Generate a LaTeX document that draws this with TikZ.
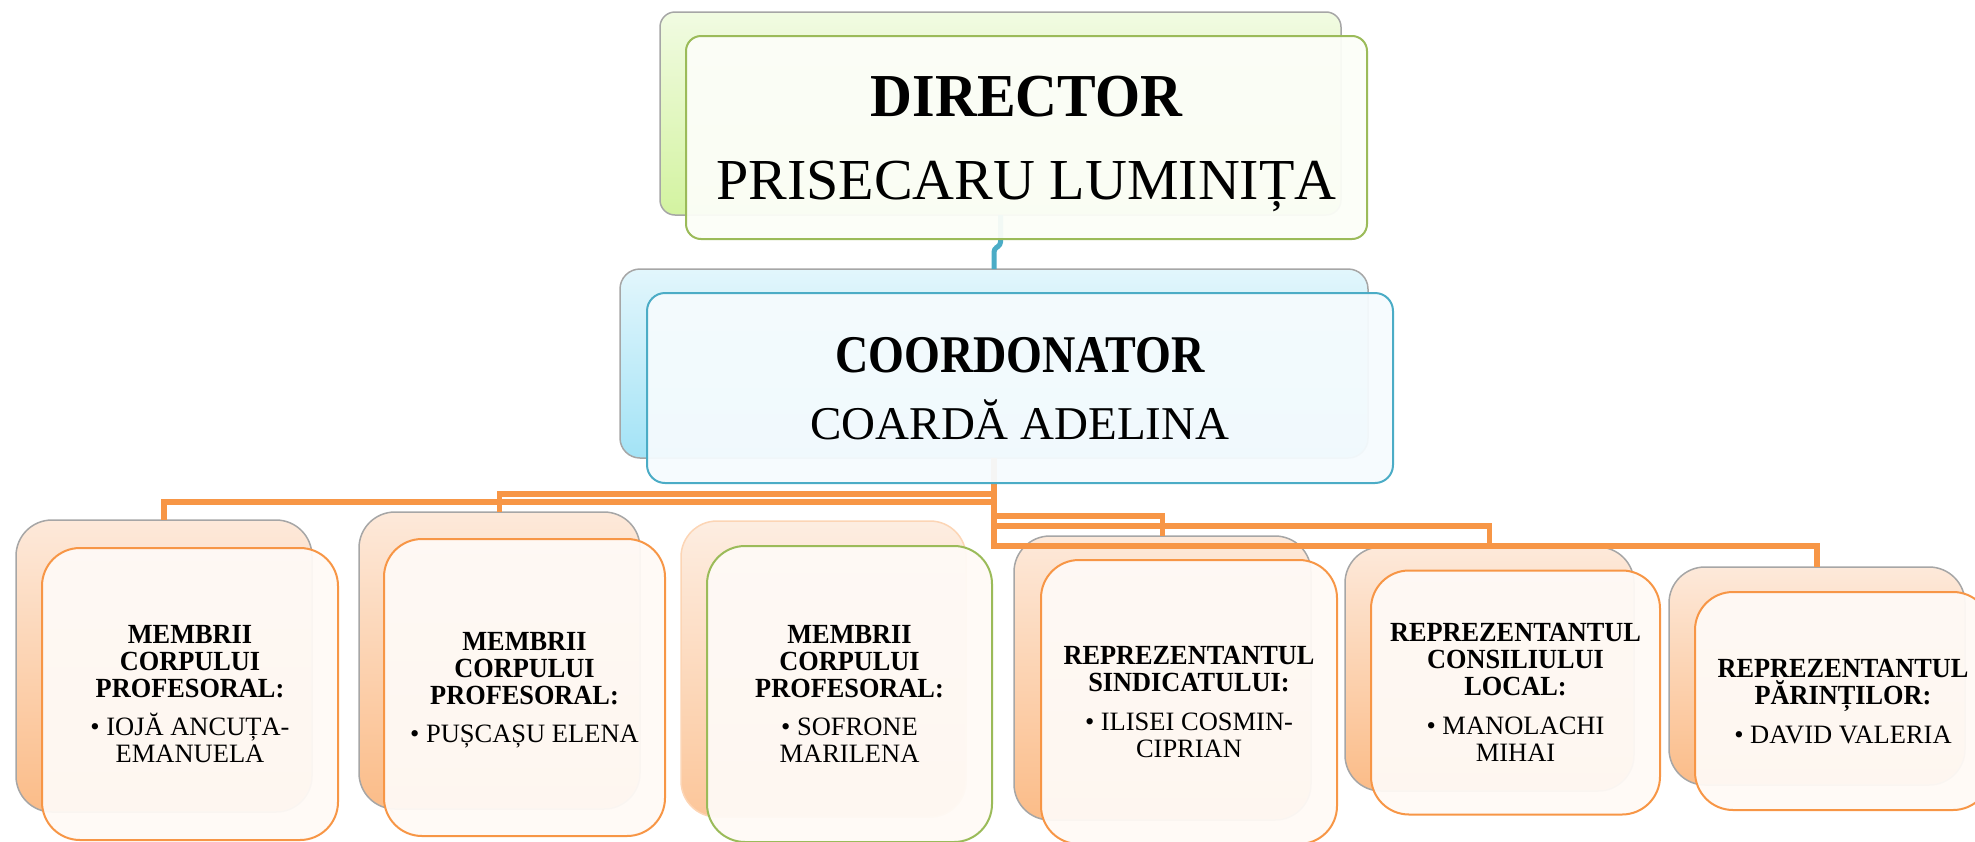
\documentclass[tikz,border=0pt]{standalone}
\usepackage{fontspec}
\setmainfont{Liberation Serif}
\newfontfamily\bserif[FakeStretch=0.95]{Liberation Serif}
\newfontfamily\cserif[FakeStretch=0.87]{Liberation Serif}
\newcommand\hbf{\bserif\bfseries\fontsize{27.7}{27}\selectfont}
\definecolor{orLine}{HTML}{F79646}
\definecolor{grLine}{HTML}{9BBB59}
\definecolor{blLine}{HTML}{4BACC6}
\definecolor{pkTop}{HTML}{FDE9DA}
\definecolor{pkBot}{HTML}{FBBC88}
\definecolor{gnTop}{HTML}{F1FBE2}
\definecolor{gnBot}{HTML}{D3F3A0}
\definecolor{buTop}{HTML}{E2F6FC}
\definecolor{buBot}{HTML}{A3E3F6}
\definecolor{frOr}{HTML}{FFFAF6}
\definecolor{frGn}{HTML}{FCFEF8}
\definecolor{frBu}{HTML}{F5FBFE}
\begin{document}
\begin{tikzpicture}[x=1pt,y=-1pt,
  boxbase/.style={inner sep=0pt, outer sep=0pt},
  bkD/.style={boxbase, draw=black!35, line width=1.5pt, rounded corners=15pt, top color=gnTop, bottom color=gnBot},
  bkC/.style={boxbase, draw=black!35, line width=1.5pt, rounded corners=20pt, top color=buTop, bottom color=buBot},
  bkO/.style={boxbase, draw=black!35, line width=1.5pt, rounded corners=36pt, top color=pkTop, bottom color=pkBot},
  bkL/.style={boxbase, draw=orLine!40, line width=1.5pt, rounded corners=36pt, top color=pkTop!80!white, bottom color=pkBot!85!white},
  frD/.style={boxbase, draw=grLine, line width=2pt, rounded corners=15pt, fill=frGn, fill opacity=0.95, text opacity=1, align=center, text depth=0pt, font=\fontsize{58}{83}\selectfont},
  frC/.style={boxbase, draw=blLine, line width=2pt, rounded corners=18pt, fill=frBu, fill opacity=0.95, text opacity=1, align=center, text depth=0pt, font=\fontsize{47}{67}\selectfont},
  frO/.style={boxbase, draw=orLine, line width=2pt, rounded corners=38pt, fill=frOr, fill opacity=0.95, text opacity=1, align=center, text depth=0pt, font=\fontsize{26.5}{27}\selectfont},
  frG/.style={frO, draw=grLine},
  oline/.style={draw=orLine, line width=5.5pt},
  bline/.style={draw=blLine, line width=5pt, rounded corners=3pt}]
\useasboundingbox (0,0) rectangle (1975,841);
\clip (0,0) rectangle (1975,841);

% back shapes
\node[bkD, minimum width=681pt, minimum height=203pt] (dB) at (1000.5,113.5) {};
\node[bkC, minimum width=748pt, minimum height=189pt] (cB) at (994,363.5) {};
\node[bkO, minimum width=296pt, minimum height=292pt] (b1B) at (164,666) {};
\node[bkO, minimum width=281pt, minimum height=297pt] (b2B) at (499.5,660.5) {};
\node[bkL, minimum width=285pt, minimum height=296pt] (b3B) at (823.5,669) {};
\node[bkO, minimum width=297pt, minimum height=284pt] (b4B) at (1162.5,678) {};
\node[bkO, minimum width=289pt, minimum height=244pt] (b5B) at (1489.5,669) {};
\node[bkO, minimum width=296pt, minimum height=218pt] (b6B) at (1817,676) {};

% connector levels
\coordinate (lv1) at (0,502);
\coordinate (lv2) at (0,494);
\coordinate (lv4) at (0,516);
\coordinate (lv5) at (0,526);
\coordinate (lv6) at (0,546);
\coordinate (jg) at (0,249);

% connectors
\draw[bline] (dB.south) -- ++(0,30) -- (cB.north |- jg) -- (cB.north);
\draw[oline] (cB.south) -- (cB.south |- lv1) -| (b1B.north);
\draw[oline] (cB.south) -- (cB.south |- lv2) -| (b2B.north);
\draw[oline] (cB.south) -- (cB.south |- lv4) -| (b4B.north);
\draw[oline] (cB.south) -- (cB.south |- lv5) -| (b5B.north);
\draw[oline] (cB.south) -- (cB.south |- lv6) -| (b6B.north);

% front shapes with text
\node[frD, minimum width=681pt, minimum height=203pt] (dF) at (1026.5,137.5)
  {{\bserif\bfseries\fontsize{61}{83}\selectfont DIRECTOR}\\PRISECARU LUMINIȚA};
\node[frC, minimum width=746pt, minimum height=190pt] (cF) at (1020,388)
  {{\cserif\bfseries\fontsize{53}{67}\selectfont COORDONATOR}\\COARDĂ ADELINA};
\node[frO, minimum width=296pt, minimum height=292pt] (b1F) at (190,694)
  {{\hbf MEMBRII}\\{\hbf CORPULUI}\\{\hbf PROFESORAL:}\\[11.7pt]• IOJĂ ANCUȚA-\\EMANUELA};
\node[frO, minimum width=281pt, minimum height=297pt] (b2F) at (524.5,687.5)
  {{\hbf MEMBRII}\\{\hbf CORPULUI}\\{\hbf PROFESORAL:}\\[11.7pt]• PUȘCAȘU ELENA};
\node[frG, minimum width=285pt, minimum height=296pt] (b3F) at (849.5,694)
  {{\hbf MEMBRII}\\{\hbf CORPULUI}\\{\hbf PROFESORAL:}\\[11.7pt]• SOFRONE\\MARILENA};
\node[frO, minimum width=296pt, minimum height=284pt] (b4F) at (1189,702)
  {{\hbf REPREZENTANTUL}\\{\hbf SINDICATULUI:}\\[11.7pt]• ILISEI COSMIN-\\CIPRIAN};
\node[frO, minimum width=289pt, minimum height=244pt] (b5F) at (1515.5,692.5)
  {{\hbf REPREZENTANTUL}\\{\hbf CONSILIULUI}\\{\hbf LOCAL:}\\[11.7pt]• MANOLACHI\\MIHAI};
\node[frO, minimum width=296pt, minimum height=218pt] (b6F) at (1843,701)
  {{\hbf REPREZENTANTUL}\\{\hbf PĂRINȚILOR:}\\[11.7pt]• DAVID VALERIA};
\end{tikzpicture}
\end{document}
